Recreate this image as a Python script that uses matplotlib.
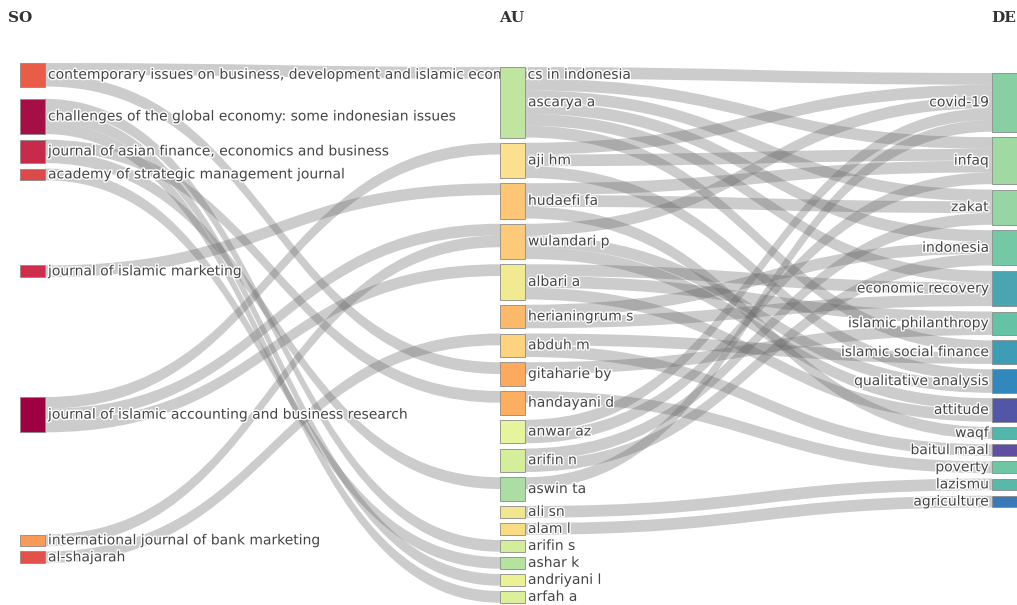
import matplotlib
matplotlib.use('Agg')
import matplotlib.pyplot as plt
from matplotlib.path import Path
from matplotlib.patches import PathPatch, Rectangle
import matplotlib.patheffects as pe


# nodes of each field (name, number of documents)
soNames = ['contemporary issues on business, development and islamic economics in indonesia',
           'challenges of the global economy: some indonesian issues',
           'journal of asian finance, economics and business',
           'academy of strategic management journal',
           'journal of islamic marketing',
           'journal of islamic accounting and business research',
           'international journal of bank marketing',
           'al-shajarah']
soSizes = [2, 3, 2, 1, 1, 3, 1, 1]
soColors = ['#e95c47', '#a50f45', '#c72a4a', '#dc4a4c', '#cf2d4d', '#9e0142', '#f99a57', '#e2514a']

auNames = ['ascarya a', 'aji hm', 'hudaefi fa', 'wulandari p', 'albari a', 'herianingrum s',
           'abduh m', 'gitaharie by', 'handayani d', 'anwar az', 'arifin n', 'aswin ta',
           'ali sn', 'alam l', 'arifin s', 'ashar k', 'andriyani l', 'arfah a']
auSizes = [6, 3, 3, 3, 3, 2, 2, 2, 2, 2, 2, 2, 1, 1, 1, 1, 1, 1]
auColors = ['#bfe5a0', '#fbe08d', '#fdc576', '#fdca79', '#f2ea91', '#fdb96a',
            '#fdd380', '#fdaa5f', '#fdae61', '#e6f59d', '#d5ee9b', '#abdda4',
            '#f0e78f', '#f8dc84', '#d3ed9b', '#b6e2a1', '#ecf193', '#dcf09b']

deNames = ['covid-19', 'infaq', 'zakat', 'indonesia', 'economic recovery', 'islamic philanthropy',
           'islamic social finance', 'qualitative analysis', 'attitude', 'waqf', 'baitul maal',
           'poverty', 'lazismu', 'agriculture']
deSizes = [5, 4, 3, 3, 3, 2, 2, 2, 2, 1, 1, 1, 1, 1]
deColors = ['#88d0a4', '#a0d9a2', '#98d5a4', '#75c8a5', '#4aa4b2', '#66c2a5',
            '#3f9cb5', '#3288bd', '#5356a6', '#52b6aa', '#5e4fa2', '#6fc6a5', '#59b8a8', '#3b7ab8']

# links SO -> AU
soLinks = [('contemporary issues on business, development and islamic economics in indonesia', 'ascarya a'),
           ('contemporary issues on business, development and islamic economics in indonesia', 'gitaharie by'),
           ('challenges of the global economy: some indonesian issues', 'arifin s'),
           ('challenges of the global economy: some indonesian issues', 'andriyani l'),
           ('challenges of the global economy: some indonesian issues', 'arfah a'),
           ('journal of asian finance, economics and business', 'handayani d'),
           ('journal of asian finance, economics and business', 'aswin ta'),
           ('academy of strategic management journal', 'ashar k'),
           ('journal of islamic marketing', 'hudaefi fa'),
           ('journal of islamic accounting and business research', 'aji hm'),
           ('journal of islamic accounting and business research', 'wulandari p'),
           ('journal of islamic accounting and business research', 'albari a'),
           ('international journal of bank marketing', 'wulandari p'),
           ('al-shajarah', 'abduh m')]

# links AU -> DE
deLinks = [('ascarya a', 'covid-19'), ('ascarya a', 'infaq'), ('ascarya a', 'zakat'),
           ('ascarya a', 'indonesia'), ('ascarya a', 'economic recovery'), ('ascarya a', 'islamic social finance'),
           ('aji hm', 'covid-19'), ('aji hm', 'infaq'), ('aji hm', 'qualitative analysis'),
           ('hudaefi fa', 'infaq'), ('hudaefi fa', 'zakat'), ('hudaefi fa', 'waqf'),
           ('wulandari p', 'covid-19'), ('wulandari p', 'qualitative analysis'), ('wulandari p', 'attitude'),
           ('albari a', 'economic recovery'), ('albari a', 'islamic philanthropy'), ('albari a', 'attitude'),
           ('herianingrum s', 'indonesia'), ('herianingrum s', 'economic recovery'),
           ('abduh m', 'islamic social finance'), ('abduh m', 'baitul maal'),
           ('gitaharie by', 'islamic philanthropy'),
           ('handayani d', 'poverty'),
           ('anwar az', 'covid-19'), ('anwar az', 'infaq'),
           ('arifin n', 'zakat'), ('arifin n', 'indonesia'),
           ('aswin ta', 'covid-19'),
           ('ali sn', 'lazismu'),
           ('alam l', 'agriculture')]

UNIT = 11.75
NODE_W = 25
# column x and top, gap between nodes
COLS = {'SO': (20, 63), 'AU': (500, 67), 'DE': (992, 73)}
soExtraGap = [0, 1.05, 0.47, 0.46, 7.25, 10.2, 8.7, 0.44]


def placeNodes(names, sizes, x, top, gaps):
    pos = {}
    y = top
    for i, name in enumerate(names):
        y += gaps[i]
        h = sizes[i] * UNIT
        pos[name] = [x, y, h]
        y += h
    return pos


soPos = placeNodes(soNames, soSizes, COLS['SO'][0], COLS['SO'][1], [g * UNIT for g in soExtraGap])
auPos = placeNodes(auNames, auSizes, COLS['AU'][0], COLS['AU'][1], [0] + [5.25] * (len(auNames) - 1))
dePos = placeNodes(deNames, deSizes, COLS['DE'][0], COLS['DE'][1], [0] + [5.4] * (len(deNames) - 1))


def linkBands(links, srcPos, tgtPos):
    # stack links at each node, sorted by position of the other end (like plotly)
    srcY = {}
    tgtY = {}
    for s in srcPos:
        out = sorted([l for l in links if l[0] == s], key=lambda l: tgtPos[l[1]][1])
        off = srcPos[s][1]
        for l in out:
            srcY[l] = off
            off += UNIT
    for t in tgtPos:
        inc = sorted([l for l in links if l[1] == t], key=lambda l: srcPos[l[0]][1])
        off = tgtPos[t][1]
        for l in inc:
            tgtY[l] = off
            off += UNIT
    bands = []
    for l in links:
        x0 = srcPos[l[0]][0] + NODE_W
        x1 = tgtPos[l[1]][0]
        bands.append((x0, srcY[l], x1, tgtY[l]))
    return bands


def drawBand(ax, x0, y0, x1, y1):
    xm = (x0 + x1) / 2
    verts = [(x0, y0), (xm, y0), (xm, y1), (x1, y1),
             (x1, y1 + UNIT), (xm, y1 + UNIT), (xm, y0 + UNIT), (x0, y0 + UNIT), (x0, y0)]
    codes = [Path.MOVETO, Path.CURVE4, Path.CURVE4, Path.CURVE4,
             Path.LINETO, Path.CURVE4, Path.CURVE4, Path.CURVE4, Path.CLOSEPOLY]
    ax.add_patch(PathPatch(Path(verts, codes), facecolor='#666666', alpha=0.33,
                           edgecolor='none', zorder=1))


fig = plt.figure(figsize=(10.17, 6.05), dpi=100)
ax = fig.add_axes([0, 0, 1, 1])
ax.set_xlim(0, 1017)
ax.set_ylim(605, 0)
ax.axis('off')

for b in linkBands(soLinks, soPos, auPos) + linkBands(deLinks, auPos, dePos):
    drawBand(ax, *b)

halo = [pe.withStroke(linewidth=2, foreground='white')]


def drawColumn(names, pos, colors, side, z):
    for i, name in enumerate(names):
        x, y, h = pos[name]
        ax.add_patch(Rectangle((x, y), NODE_W, h, facecolor=colors[i], edgecolor='#8a8a8a',
                               linewidth=0.6, zorder=3))
        if side == 'right':
            ax.text(x + NODE_W + 3, y + h / 2, name, ha='left', va='center', fontsize=10,
                    color='#444444', zorder=z, path_effects=halo)
        else:
            ax.text(x - 3, y + h / 2, name, ha='right', va='center', fontsize=10,
                    color='#444444', zorder=z, path_effects=halo)


drawColumn(soNames, soPos, soColors, 'right', 2)
drawColumn(auNames, auPos, auColors, 'right', 4)
drawColumn(deNames, dePos, deColors, 'left', 4)

# field titles
ax.text(8, 18, 'SO', fontsize=11, fontweight='bold', family='DejaVu Serif', color='#333333', va='center')
ax.text(512, 18, 'AU', fontsize=11, fontweight='bold', family='DejaVu Serif', color='#333333',
        va='center', ha='center')
ax.text(1016, 18, 'DE', fontsize=11, fontweight='bold', family='DejaVu Serif', color='#333333',
        va='center', ha='right')

fig.savefig('out.png', dpi=100)
